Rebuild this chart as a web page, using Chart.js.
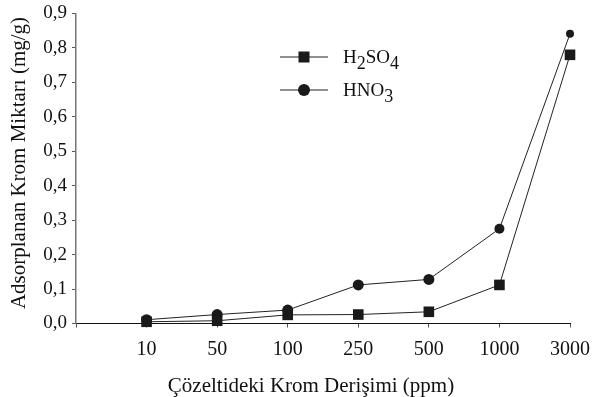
<!DOCTYPE html>
<html><head><meta charset="utf-8">
<script src="https://cdn.jsdelivr.net/npm/chart.js@4/dist/chart.umd.min.js"></script>
<style>html,body{margin:0;padding:0;background:#fff}#w{width:594px;height:397px}</style>
</head><body><div id="w"><canvas id="c" width="594" height="397"></canvas></div>
<script>
const categories = ['10','50','100','250','500','1000','3000'];
const h2so4 = [0.005, 0.008, 0.025, 0.026, 0.034, 0.112, 0.78];
const hno3 = [0.011, 0.026, 0.039, 0.112, 0.128, 0.275, 0.841];
const seriesLabels = ['H2SO4', 'HNO3'];
const yTicks = [0,0.1,0.2,0.3,0.4,0.5,0.6,0.7,0.8,0.9];
const xTitle = 'Çözeltideki Krom Derişimi (ppm)';
const yTitle = 'Adsorplanan Krom Miktarı (mg/g)';

const FONT = "'Liberation Serif', 'Times New Roman', serif";
const toPts = arr => arr.map((v,i)=>({x:i+1,y:v}));

const decorPlugin = {
  id:'decor',
  afterDraw(chart){
    const ctx = chart.ctx;
    // axis titles
    ctx.save();
    ctx.fillStyle = '#111';
    ctx.font = '21px ' + FONT;
    ctx.textAlign = 'center'; ctx.textBaseline = 'middle';
    ctx.fillText(xTitle, 311, 386);
    ctx.translate(19, 163);
    ctx.rotate(-Math.PI/2);
    ctx.fillText(yTitle, 0, 0);
    ctx.restore();
    // legend
    const rows = [57, 90];
    chart.data.datasets.forEach((ds,i)=>{
      const y = rows[i];
      ctx.save();
      ctx.strokeStyle = '#222'; ctx.lineWidth = 1;
      ctx.beginPath(); ctx.moveTo(280,y); ctx.lineTo(328,y); ctx.stroke();
      ctx.fillStyle = '#1a1a1a';
      if (ds.pointStyle === 'rect') { ctx.fillRect(304-5.5,y-5.5,11,11); }
      else { ctx.beginPath(); ctx.arc(304,y,6,0,Math.PI*2); ctx.fill(); }
      let x = 343;
      ctx.fillStyle = '#111'; ctx.textBaseline = 'alphabetic'; ctx.textAlign='left';
      const parts = ds.label.match(/(\d+|\D+)/g);
      parts.forEach(p=>{
        const sub = /^\d+$/.test(p);
        ctx.font = (sub? '18px ':'19px ') + FONT;
        const yy = y + 6 + (sub ? 6 : 0);
        ctx.fillText(p, x, yy);
        x += ctx.measureText(p).width;
      });
      ctx.restore();
    });
  }
};

new Chart(document.getElementById('c'), {
  type:'line',
  data:{ datasets:[
    { label:seriesLabels[0], data:toPts(h2so4), borderColor:'#222', borderWidth:1, pointStyle:'rect',
      pointRadius:7.5, pointBackgroundColor:'#1a1a1a', pointBorderColor:'#1a1a1a', pointBorderWidth:0, tension:0, clip:false },
    { label:seriesLabels[1], data:toPts(hno3), borderColor:'#222', borderWidth:1, pointStyle:'circle',
      pointRadius:[5.5,5.5,5.5,5.5,5.5,5,4], pointBackgroundColor:'#1a1a1a', pointBorderColor:'#1a1a1a', pointBorderWidth:0, tension:0, clip:false }
  ]},
  options:{
    responsive:false, animation:false, devicePixelRatio:1,
    layout:{padding:{left:0,right:24,top:13.5,bottom:0}},
    plugins:{legend:{display:false}, tooltip:{enabled:false}},
    scales:{
      x:{ type:'linear', min:0, max:7,
        afterBuildTicks(s){ s.ticks = [0,1,2,3,4,5,6,7].map(v=>({value:v})); },
        afterFit(s){ s.height = 73.5; s.paddingLeft = 0; s.paddingRight = 0; },
        ticks:{ callback:(v)=> categories[v-1] ?? '', font:{family:FONT,size:20}, color:'#111', padding:10, maxRotation:0, autoSkip:false },
        grid:{ drawOnChartArea:false, drawTicks:true, tickLength:4, color:'#555', lineWidth:1 },
        border:{ color:'#111', width:1 }
      },
      y:{ min:0, max:0.9,
        afterBuildTicks(s){ s.ticks = yTicks.map(v=>({value:v})); },
        afterFit(s){ s.width = 76; s.paddingTop = 0; s.paddingBottom = 0; },
        ticks:{ callback:(v)=> v.toFixed(1).replace('.',','), font:{family:FONT,size:19}, color:'#111', padding:5 },
        grid:{ drawOnChartArea:false, drawTicks:true, tickLength:4, color:'#555', lineWidth:1 },
        border:{ color:'#777', width:1.5 }
      }
    }
  },
  plugins:[decorPlugin]
});
</script></body></html>
